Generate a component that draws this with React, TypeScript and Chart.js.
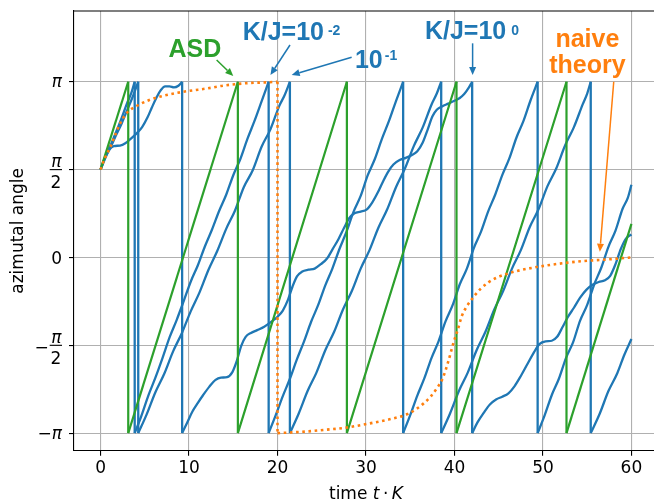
import React, { useEffect, useRef } from 'react';
import { Chart, registerables } from 'chart.js';

Chart.register(...registerables);

const PI = Math.PI;

// ---------- axis ticks ----------
const xTicks = [0, 10, 20, 30, 40, 50, 60];
const yTickValues = [-PI, -PI / 2, 0, PI / 2, PI];
const yTickLabels = ['−π', '−π/2', '0', 'π/2', 'π'];

// ---------- series: [time t·K, azimutal angle] ----------
const asd: [number, number][] = [
  [0, 1.5708], [3.13, PI], [3.13, -PI], [15.52, PI], [15.52, -PI], [27.84, PI], [27.84, -PI],
  [40.23, PI], [40.23, -PI], [52.66, PI], [52.66, -PI], [60, 0.6],
];

const kj2: [number, number][] = [
  [0, 1.5708], [0.6, 1.83], [1.2, 2.03], [1.8, 2.26], [2.4, 2.5], [3.0, 2.76], [3.5, 2.95], [3.86, PI],
  [3.86, -PI], [4.6, -2.84], [5.4, -2.47], [6.2, -2.15], [7.0, -1.8], [7.8, -1.43], [8.6, -1.12], [9.4, -0.78],
  [10.2, -0.43], [11.0, -0.14], [11.8, 0.2], [12.6, 0.5], [13.4, 0.83], [14.2, 1.12], [15.0, 1.47], [15.8, 1.76],
  [16.6, 2.12], [17.4, 2.44], [18.2, 2.79], [19.0, PI],
  [19.0, -PI], [19.8, -2.82], [20.6, -2.48], [21.4, -2.17], [22.2, -1.82], [23.0, -1.5], [23.8, -1.15], [24.6, -0.85],
  [25.4, -0.5], [26.2, -0.2], [27.0, 0.15], [27.8, 0.46], [28.6, 0.82], [29.4, 1.1], [30.2, 1.47], [31.0, 1.76],
  [31.8, 2.12], [32.6, 2.44], [33.4, 2.8], [34.2, PI],
  [34.2, -PI], [35.0, -2.82], [35.8, -2.47], [36.6, -2.16], [37.4, -1.8], [38.2, -1.5], [39.0, -1.14], [39.8, -0.85],
  [40.6, -0.48], [41.4, -0.2], [42.2, 0.17], [43.0, 0.46], [43.8, 0.82], [44.6, 1.12], [45.4, 1.47], [46.2, 1.77],
  [47.0, 2.14], [47.8, 2.44], [48.6, 2.81], [49.4, PI],
  [49.4, -PI], [50.2, -2.82], [51.0, -2.46], [51.8, -2.17], [52.6, -1.8], [53.4, -1.52], [54.2, -1.13], [55.0, -0.85],
  [55.8, -0.48], [56.6, -0.18], [57.4, 0.19], [58.2, 0.48], [59.0, 0.87], [59.6, 1.07], [60.0, 1.3],
];

const kj1: [number, number][] = [
  [0, 1.5708], [0.6, 1.8], [1.2, 1.99], [1.8, 2.2], [2.4, 2.4], [3.0, 2.63], [3.6, 2.86], [4.26, PI],
  [4.26, -PI], [5.2, -2.81], [6.2, -2.41], [7.2, -2.08], [8.2, -1.68], [9.2, -1.35], [10.2, -0.96], [11.2, -0.62],
  [12.2, -0.22], [13.2, 0.12], [14.2, 0.51], [15.2, 0.84], [16.2, 1.26], [17.2, 1.56], [18.2, 1.98], [19.2, 2.29],
  [20.2, 2.71], [20.8, 2.9], [21.4, PI],
  [21.4, -PI], [22.4, -2.79], [23.4, -2.39], [24.4, -2.06], [25.4, -1.66], [26.4, -1.33], [27.4, -0.93], [28.4, -0.6],
  [29.4, -0.2], [30.4, 0.13], [31.4, 0.53], [32.4, 0.86], [33.4, 1.26], [34.4, 1.59], [35.4, 1.99], [36.4, 2.32],
  [37.4, 2.73], [38.0, 2.93], [38.5, PI],
  [38.5, -PI], [39.5, -2.79], [40.5, -2.39], [41.5, -2.06], [42.5, -1.66], [43.5, -1.33], [44.5, -0.93], [45.5, -0.6],
  [46.5, -0.2], [47.5, 0.13], [48.5, 0.54], [49.5, 0.86], [50.5, 1.27], [51.5, 1.59], [52.5, 2.0], [53.5, 2.33],
  [54.5, 2.74], [55.0, 2.93], [55.4, PI],
  [55.4, -PI], [56.4, -2.8], [57.4, -2.39], [58.4, -2.07], [59.2, -1.74], [60.0, -1.46],
];

const kj0: [number, number][] = [
  [0, 1.5708], [0.5, 1.78], [1.0, 1.93], [1.5, 1.99], [2.2, 2.0], [2.8, 2.04], [3.4, 2.12], [4.1, 2.22],
  [4.7, 2.33], [5.3, 2.5], [5.8, 2.68], [6.3, 2.85], [6.8, 2.99], [7.3, 3.06], [7.8, 3.06], [8.3, 3.04],
  [8.8, 3.07], [9.22, PI],
  [9.22, -PI], [9.8, -2.95], [10.4, -2.75], [11.0, -2.6], [11.6, -2.46], [12.3, -2.31], [13.0, -2.19], [13.6, -2.15],
  [14.3, -2.14], [14.9, -2.05], [15.4, -1.85], [15.9, -1.58], [16.4, -1.42], [17.0, -1.35], [17.7, -1.3], [18.5, -1.24],
  [19.3, -1.15], [20.0, -1.06], [20.6, -0.95], [21.2, -0.75], [21.7, -0.52], [22.2, -0.34], [22.8, -0.25], [23.5, -0.22],
  [24.2, -0.2], [24.9, -0.12], [25.6, -0.02], [26.2, 0.14], [26.9, 0.33], [27.5, 0.52], [28.1, 0.7], [28.7, 0.79],
  [29.4, 0.82], [30.1, 0.86], [30.7, 0.98], [31.3, 1.15], [31.9, 1.35], [32.5, 1.53], [33.1, 1.66], [33.8, 1.74],
  [34.5, 1.78], [35.2, 1.83], [35.8, 1.9], [36.4, 2.05], [37.0, 2.3], [37.5, 2.52], [38.0, 2.64], [38.6, 2.7],
  [39.3, 2.75], [40.0, 2.8], [40.6, 2.85], [41.1, 2.92], [41.6, 3.03], [42.0, PI],
  [42.0, -PI], [42.6, -2.95], [43.3, -2.78], [44.0, -2.63], [44.7, -2.54], [45.4, -2.49], [46.1, -2.43], [46.8, -2.3],
  [47.5, -2.12], [48.2, -1.92], [48.9, -1.72], [49.6, -1.55], [50.3, -1.5], [51.0, -1.49], [51.6, -1.42], [52.2, -1.25],
  [52.8, -1.07], [53.5, -0.9], [54.2, -0.72], [54.9, -0.58], [55.6, -0.49], [56.3, -0.44], [57.0, -0.41], [57.6, -0.33],
  [58.2, -0.12], [58.8, 0.15], [59.4, 0.34], [60.0, 0.41],
];

const naive: [number, number][] = [
  [0, 1.5708], [0.5, 1.78], [1.1, 1.97], [1.6, 2.17], [2.2, 2.39], [3.0, 2.59], [4.1, 2.71], [5.6, 2.82],
  [7.1, 2.89], [8.6, 2.94], [10.1, 2.98], [12.0, 3.02], [13.8, 3.07], [15.4, 3.1], [17.0, 3.12], [18.8, 3.13],
  [20.0, PI],
  [20.0, -PI], [21.5, -3.13], [23.5, -3.11], [25.5, -3.08], [27.5, -3.05], [29.0, -3.01], [31.0, -2.95], [32.8, -2.89],
  [34.7, -2.8], [35.8, -2.7], [36.6, -2.6], [37.4, -2.47], [38.1, -2.32], [38.7, -2.15], [39.3, -1.86], [39.9, -1.52],
  [40.4, -1.28], [40.8, -1.06], [41.3, -0.9], [41.9, -0.76], [42.9, -0.57], [43.8, -0.45], [44.8, -0.36], [46.0, -0.29],
  [47.4, -0.23], [49.0, -0.18], [51.0, -0.13], [53.0, -0.09], [55.0, -0.06], [57.0, -0.04], [60.0, 0.0],
];

// ---------- colours ----------
const BLUE = '#1f77b4';
const GREEN = '#2ca02c';
const ORANGE = '#ff7f0e';

// ---------- annotations (data coordinates) ----------
const labels = [
  { text: 'ASD', sup: '', t: 10.67, v: 3.589, align: 'center', color: GREEN, gap: 0, raise: 0 },
  { text: 'K/J=10', sup: '-2', t: 16.06, v: 3.887, align: 'left', color: BLUE, gap: 4, raise: 5 },
  { text: '10', sup: '-1', t: 28.75, v: 3.382, align: 'left', color: BLUE, gap: 2, raise: 8 },
  { text: 'K/J=10', sup: '0', t: 36.66, v: 3.9, align: 'left', color: BLUE, gap: 5, raise: 4.5 },
  { text: 'naive', sup: '', t: 55.02, v: 3.768, align: 'center', color: ORANGE, gap: 0, raise: 0 },
  { text: 'theory', sup: '', t: 55.02, v: 3.292, align: 'center', color: ORANGE, gap: 0, raise: 0 },
];

const arrows = [
  { from: [13.12, 3.53], to: [15.0, 3.244], color: GREEN },
  { from: [21.41, 3.798], to: [19.2, 3.262], color: BLUE },
  { from: [28.38, 3.578], to: [21.6, 3.262], color: BLUE },
  { from: [42.05, 3.828], to: [42.05, 3.262], color: BLUE },
  { from: [58.0, 3.142], to: [56.43, 0.103], color: ORANGE },
];

function splitWraps(data: [number, number][]) {
  const segs: { x: number; y: number }[][] = [];
  const wraps: { x: number; y: number | null }[] = [];
  let cur: { x: number; y: number }[] = [{ x: data[0][0], y: data[0][1] }];
  for (let i = 1; i < data.length; i++) {
    const p = data[i];
    const q = data[i - 1];
    if (p[0] === q[0] && Math.abs(p[1] - q[1]) > PI) {
      segs.push(cur);
      wraps.push({ x: q[0], y: q[1] }, { x: p[0], y: p[1] }, { x: p[0], y: null });
      cur = [{ x: p[0], y: p[1] }];
    } else {
      cur.push({ x: p[0], y: p[1] });
    }
  }
  segs.push(cur);
  return { segs, wraps };
}

function makeDatasets(data: [number, number][], color: string, order: number, width: number, dash: number[] | undefined) {
  const { segs, wraps } = splitWraps(data);
  const common: any = {
    borderColor: color,
    backgroundColor: color,
    borderWidth: width,
    pointRadius: 0,
    fill: false,
    order,
    borderDash: dash || [],
    borderCapStyle: 'butt',
  };
  const ds: any[] = segs.map((s) => ({ ...common, data: s, cubicInterpolationMode: 'monotone', tension: 0.4 }));
  ds.push({ ...common, data: wraps, tension: 0, spanGaps: false });
  return ds;
}

function drawArrow(ctx: CanvasRenderingContext2D, x0: number, y0: number, x1: number, y1: number, color: string) {
  const ang = Math.atan2(y1 - y0, x1 - x0);
  const hl = 8;
  const hw = 3.5;
  const bx = x1 - hl * Math.cos(ang);
  const by = y1 - hl * Math.sin(ang);
  ctx.strokeStyle = color;
  ctx.fillStyle = color;
  ctx.lineWidth = 1.5;
  ctx.beginPath();
  ctx.moveTo(x0, y0);
  ctx.lineTo(bx, by);
  ctx.stroke();
  ctx.beginPath();
  ctx.moveTo(x1, y1);
  ctx.lineTo(bx + hw * Math.sin(ang), by - hw * Math.cos(ang));
  ctx.lineTo(bx - hw * Math.sin(ang), by + hw * Math.cos(ang));
  ctx.closePath();
  ctx.fill();
}

const FONT = '"DejaVu Sans"';
const ANN_FONT = '"Liberation Sans", Arial, sans-serif';

const decorPlugin = {
  id: 'decor',
  afterDraw(chart: any) {
    const { ctx, chartArea: ca, scales } = chart;
    const xs = scales.x;
    const ys = scales.y;
    ctx.save();

    // top spine
    ctx.strokeStyle = '#000';
    ctx.lineWidth = 1.1;
    ctx.beginPath();
    ctx.moveTo(ca.left, ca.top);
    ctx.lineTo(ca.right, ca.top);
    ctx.stroke();

    // y tick labels
    const R = ca.left - 12;
    ctx.fillStyle = '#000';
    ctx.textBaseline = 'alphabetic';
    yTickValues.forEach((val, i) => {
      const py = ys.getPixelForValue(val);
      const lab = yTickLabels[i];
      const neg = lab.startsWith('−');
      const body = neg ? lab.slice(1) : lab;
      if (body.includes('/')) {
        const [num, den] = body.split('/');
        ctx.font = `italic 17px ${FONT}`;
        const wn = ctx.measureText(num).width;
        ctx.font = `17px ${FONT}`;
        const wd = ctx.measureText(den).width;
        const w = Math.max(wn, wd) + 1.5;
        const left = R - w;
        ctx.fillRect(left, py - 0.5, w, 1.1);
        ctx.textAlign = 'center';
        ctx.font = `italic 17px ${FONT}`;
        ctx.fillText(num, left + w / 2 + 0.5, py - 2.5);
        ctx.font = `17px ${FONT}`;
        ctx.fillText(den, left + w / 2, py + 18.5);
        if (neg) {
          ctx.textAlign = 'right';
          ctx.fillText('−', left - 1, py + 8);
        }
      } else if (body === 'π') {
        ctx.textAlign = 'right';
        ctx.font = `italic 17px ${FONT}`;
        const wp = ctx.measureText('π').width;
        ctx.fillText('π', R, py + 5.5);
        if (neg) {
          ctx.font = `17px ${FONT}`;
          ctx.fillText('−', R - wp, py + 5.5);
        }
      } else {
        ctx.textAlign = 'right';
        ctx.font = `17px ${FONT}`;
        ctx.fillText(lab, R, py + 6.2);
      }
    });

    // y title
    ctx.save();
    ctx.translate(23, (ca.top + ca.bottom) / 2);
    ctx.rotate(-PI / 2);
    ctx.textAlign = 'center';
    ctx.font = `17px ${FONT}`;
    ctx.fillText('azimutal angle', 0, 0);
    ctx.restore();

    // x title: "time t·K"
    const cx = xs.getPixelForValue(30);
    const by = 499;
    ctx.textAlign = 'left';
    ctx.font = `17px ${FONT}`;
    const wTime = ctx.measureText('time ').width;
    ctx.font = `italic 17px ${FONT}`;
    const wt = ctx.measureText('t').width;
    const wK = ctx.measureText('K').width;
    ctx.font = `17px ${FONT}`;
    const wDot = ctx.measureText('·').width;
    const sp = 3.5;
    const total = wTime + wt + sp + wDot + sp + wK;
    let px = cx - total / 2;
    ctx.fillText('time ', px, by);
    px += wTime;
    ctx.font = `italic 17px ${FONT}`;
    ctx.fillText('t', px, by);
    px += wt + sp;
    ctx.font = `17px ${FONT}`;
    ctx.fillText('·', px, by);
    px += wDot + sp;
    ctx.font = `italic 17px ${FONT}`;
    ctx.fillText('K', px, by);

    // annotation texts
    labels.forEach((l) => {
      const x = xs.getPixelForValue(l.t);
      const y = ys.getPixelForValue(l.v);
      ctx.fillStyle = l.color;
      ctx.font = `bold 25px ${ANN_FONT}`;
      ctx.textAlign = l.align as CanvasTextAlign;
      ctx.fillText(l.text, x, y);
      if (l.sup) {
        const w = ctx.measureText(l.text).width;
        ctx.font = `bold 14px ${ANN_FONT}`;
        ctx.textAlign = 'left';
        ctx.fillText(l.sup, x + w + l.gap, y - l.raise);
      }
    });

    // arrows
    arrows.forEach((a) => {
      drawArrow(
        ctx,
        xs.getPixelForValue(a.from[0]),
        ys.getPixelForValue(a.from[1]),
        xs.getPixelForValue(a.to[0]),
        ys.getPixelForValue(a.to[1]),
        a.color
      );
    });

    ctx.restore();
  },
};

export default function App() {
  const ref = useRef<HTMLCanvasElement | null>(null);

  useEffect(() => {
    document.body.style.margin = '0';
    const canvas = ref.current;
    if (!canvas) return;

    const datasets = [
      ...makeDatasets(naive, ORANGE, 0, 2.6, [2.6, 3.6]),
      ...makeDatasets(asd, GREEN, 1, 2.2, undefined),
      ...makeDatasets(kj2, BLUE, 2, 2.3, undefined),
      ...makeDatasets(kj1, BLUE, 2, 2.3, undefined),
      ...makeDatasets(kj0, BLUE, 2, 2.3, undefined),
    ];

    const gridOpts = {
      color: '#b0b0b0',
      lineWidth: 1.1,
      tickColor: '#000',
      tickLength: 5,
      tickWidth: 1.1,
      drawTicks: true,
    };

    const chart = new Chart(canvas, {
      type: 'line',
      data: { datasets },
      options: {
        animation: false,
        responsive: false,
        maintainAspectRatio: false,
        devicePixelRatio: 1,
        layout: { padding: { top: 11, left: 0, right: 0, bottom: 0 } },
        plugins: {
          legend: { display: false },
          tooltip: { enabled: false },
          title: { display: false },
        },
        elements: { point: { radius: 0 } },
        scales: {
          x: {
            type: 'linear',
            min: -3,
            max: 62.55,
            afterBuildTicks: (s: any) => {
              s.ticks = xTicks.map((v) => ({ value: v }));
            },
            afterFit: (s: any) => {
              s.height = 53.3;
            },
            grid: gridOpts,
            border: { display: true, color: '#000', width: 1.1 },
            ticks: {
              color: '#000',
              font: { family: 'DejaVu Sans', size: 17 },
              padding: 3,
              maxRotation: 0,
              autoSkip: false,
              callback: (v: any) => String(v),
            },
          },
          y: {
            type: 'linear',
            min: -3.456,
            max: 4.406,
            afterBuildTicks: (s: any) => {
              s.ticks = yTickValues.map((v) => ({ value: v }));
            },
            afterFit: (s: any) => {
              s.width = 74;
            },
            grid: gridOpts,
            border: { display: true, color: '#000', width: 1.1 },
            ticks: { display: false },
          },
        },
      } as any,
      plugins: [decorPlugin],
    });

    return () => {
      chart.destroy();
    };
  }, []);

  return (
    <div style={{ width: 654, height: 504 }}>
      <canvas ref={ref} width={654} height={504} style={{ display: 'block', width: 654, height: 504 }} />
    </div>
  );
}
